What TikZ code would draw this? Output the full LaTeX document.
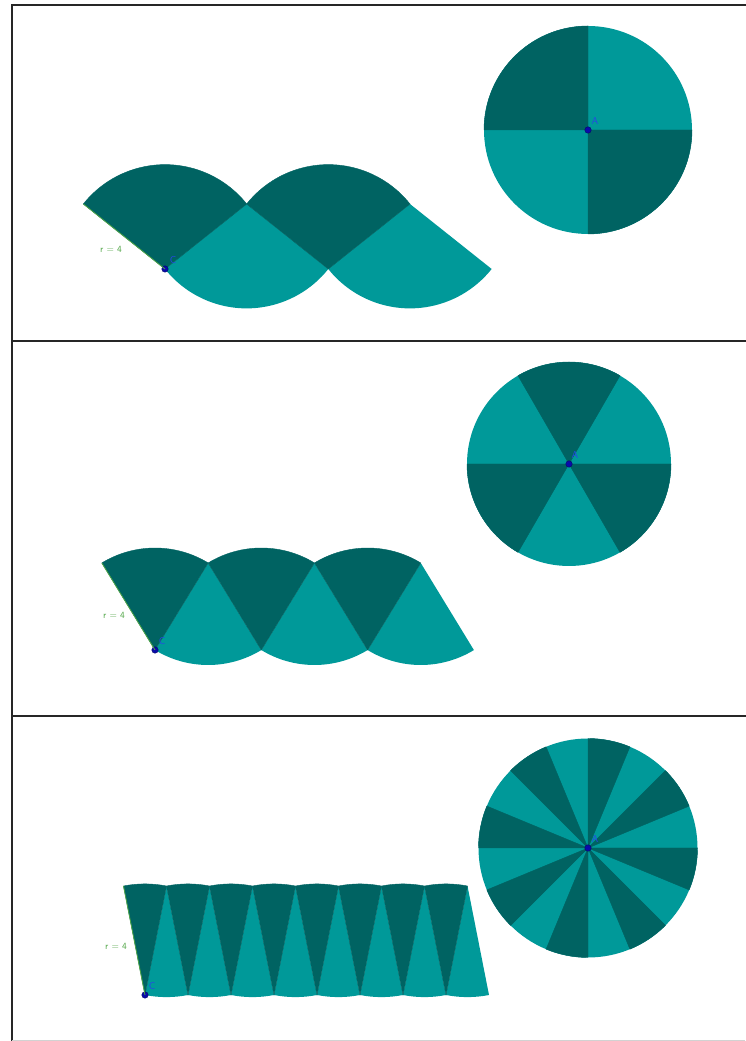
\documentclass[tikz,border=0pt]{standalone}
\definecolor{tdark}{RGB}{0,99,98}
\definecolor{tlight}{RGB}{0,153,153}
\definecolor{pblue}{RGB}{10,10,170}
\definecolor{lblue}{RGB}{40,70,230}
\definecolor{rgreen}{RGB}{80,165,70}
\newcommand\unrollrow[7]{%
  \foreach \j in {1,...,#7}{%
    \path[lt] ({#1+#3/2+(\j-1)*#3},{#2+#4}) -- ++({270-#6}:#5) arc[start angle={270-#6}, end angle={270+#6}, radius=#5] -- cycle;
  }%
  \foreach \j in {1,...,#7}{%
    \path[dk] ({#1+(\j-1)*#3},#2) -- ++({90-#6}:#5) arc[start angle={90-#6}, end angle={90+#6}, radius=#5] -- cycle;
  }}
\newcommand\piechart[4]{%
  \fill[tlight] (#1) circle[radius=#2];
  \foreach \k in {1,...,#4}{%
    \path[dk] (#1) -- ++({(2*\k-1)*#3}:#2) arc[start angle={(2*\k-1)*#3}, end angle={2*\k*#3}, radius=#2] -- cycle;
  }}
\begin{document}
\begin{tikzpicture}[x=1pt,y=1pt,
  frame/.style={line width=2.2pt, draw=black!85},
  lt/.style={fill=tlight},
  dk/.style={fill=tdark, draw=tdark, line width=0.4pt},
  ptdot/.style={circle, fill=pblue, draw=pblue!60!black, line width=0.4pt, inner sep=0pt, minimum size=6.5pt},
  plabel/.style={text=lblue, font=\sffamily\fontsize{10}{10}\selectfont, inner sep=0pt},
  rlabel/.style={text=rgreen, font=\sffamily\fontsize{9.5}{10}\selectfont, inner sep=0pt},
  redge/.style={draw=rgreen, line width=0.8pt}]
\useasboundingbox (0,0) rectangle (745,1041);
% frame
\draw[frame] (12,-2) -- (12,1036) -- (746,1036);
\draw[frame] (12,700) -- (746,700);
\draw[frame] (12,325) -- (746,325);
\draw[gray!35, line width=1pt] (12,0.6) -- (745,0.6);

% ---------- panel 1 ----------
\coordinate (A1p) at (588,911);
\piechart{A1p}{104}{90}{2}
\unrollrow{165}{772}{163.3}{65}{104.4}{51.5}{2}
\coordinate (E1) at (83.35,837);
\node[ptdot] (C1) at (165,772) {};
\draw[redge] (E1) -- (C1.center);
\node[ptdot] (A1) at (A1p) {};
\node[plabel] (lA1) at ([xshift=7pt,yshift=9pt]A1.center) {A};
\node[plabel] (lC1) at ([xshift=8pt,yshift=9pt]C1.center) {C};
\node[rlabel] (r1) at (111,792) {r = 4};

% ---------- panel 2 ----------
\coordinate (A2p) at (569,577);
\piechart{A2p}{102}{60}{3}
\unrollrow{155}{391}{106.3}{87}{102}{31.4}{3}
\coordinate (E2) at (101.85,478);
\node[ptdot] (C2) at (155,391) {};
\draw[redge] (E2) -- (C2.center);
\node[ptdot] (A2) at (A2p) {};
\node[plabel] (lA2) at ([xshift=6pt,yshift=9pt]A2.center) {A};
\node[plabel] (lC2) at ([xshift=7pt,yshift=9pt]C2.center) {C};
\node[rlabel] (r2) at (114,426) {r = 4};

% ---------- panel 3 ----------
\coordinate (A3p) at (588,193);
\piechart{A3p}{109.5}{22.5}{8}
\unrollrow{145}{46}{43}{109}{111.1}{11.16}{8}
\coordinate (E3) at (123.5,155);
\node[ptdot] (C3) at (145,46) {};
\draw[redge] (E3) -- (C3.center);
\node[ptdot] (A3) at (A3p) {};
\node[plabel] (lA3) at ([xshift=7pt,yshift=9pt]A3.center) {A};
\node[plabel] (lC3) at ([xshift=7pt,yshift=9pt]C3.center) {C};
\node[rlabel] (r3) at (116,95) {r = 4};
\end{tikzpicture}
\end{document}
